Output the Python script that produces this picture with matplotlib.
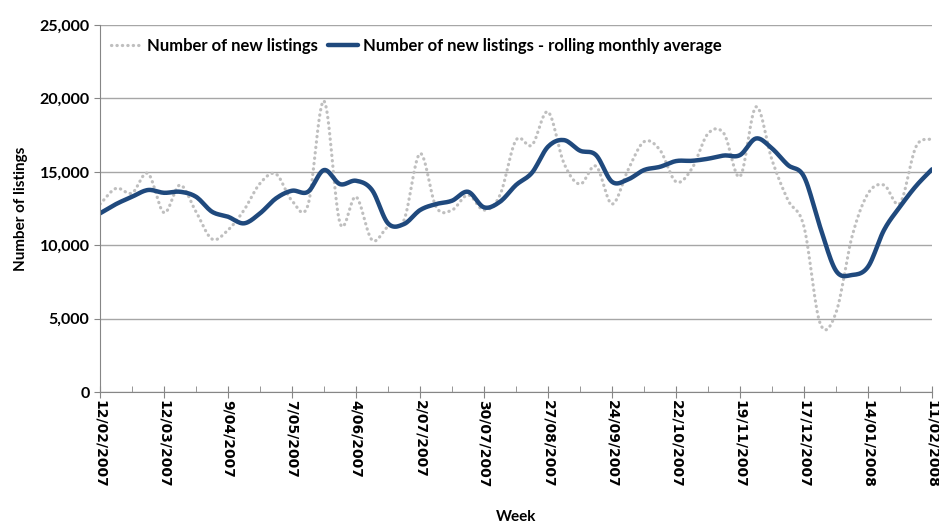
import matplotlib
matplotlib.use("Agg")
import matplotlib.pyplot as plt
import numpy as np
from matplotlib.ticker import FuncFormatter, MultipleLocator

# weekly data, 12/02/2007 .. 11/02/2008 (53 weeks)
new_listings = [12800, 13870, 13550, 14890, 12210, 14100, 12280, 10420, 11030, 12390,
                14210, 14850, 13030, 12730, 19840, 11490, 13300, 10350, 11260, 11710,
                16250, 12620, 12390, 13420, 12390, 13420, 17160, 16820, 19090, 15570,
                14160, 15390, 12800, 15120, 17050, 16480, 14320, 15230, 17600, 17600,
                14670, 19430, 15800, 13070, 11260, 4700, 5400, 10580, 13520, 14100,
                12850, 16710, 17270]
rolling_avg = [12170, 12800, 13300, 13760, 13570, 13640, 13300, 12280, 11940, 11490,
               12170, 13190, 13710, 13640, 15120, 14160, 14390, 13760, 11490, 11440,
               12390, 12800, 13030, 13640, 12580, 12960, 14100, 14940, 16710, 17160,
               16440, 16140, 14320, 14480, 15120, 15340, 15730, 15750, 15890, 16110,
               16140, 17270, 16590, 15460, 14670, 11260, 8260, 7970, 8530, 11030,
               12620, 14030, 15170]
tick_labels = ["12/02/2007", "12/03/2007", "9/04/2007", "7/05/2007", "4/06/2007",
               "2/07/2007", "30/07/2007", "27/08/2007", "24/09/2007", "22/10/2007",
               "19/11/2007", "17/12/2007", "14/01/2008", "11/02/2008"]

plt.rcParams['font.family'] = ['Lato', 'DejaVu Sans']
plt.rcParams['font.weight'] = 'bold'


def smooth(y, n=12):
    # Catmull-Rom curve through the points, like Excel's smoothed line
    y = np.asarray(y, dtype=float)
    p = np.concatenate([[2 * y[0] - y[1]], y, [2 * y[-1] - y[-2]]])
    xs, ys = [], []
    t = np.linspace(0, 1, n, endpoint=False)
    for i in range(len(y) - 1):
        p0, p1, p2, p3 = p[i], p[i + 1], p[i + 2], p[i + 3]
        seg = 0.5 * (2 * p1 + (-p0 + p2) * t + (2 * p0 - 5 * p1 + 4 * p2 - p3) * t ** 2
                     + (-p0 + 3 * p1 - 3 * p2 + p3) * t ** 3)
        xs.append(i + t)
        ys.append(seg)
    xs.append([len(y) - 1])
    ys.append([y[-1]])
    return np.concatenate(xs), np.concatenate(ys)


fig = plt.figure(figsize=(9.39, 5.27), dpi=100)
ax = fig.add_axes([100 / 939, 1 - 392 / 527, 832 / 939, 367 / 527])

xd, yd = smooth(new_listings)
xr, yr = smooth(rolling_avg)
ax.plot(xd, yd, color='#BFBFBF', lw=2.3, linestyle=(0, (0.1, 1.6)),
        dash_capstyle='round', label='Number of new listings')
ax.plot(xr, yr, color='#1F497D', lw=3.2, solid_capstyle='round',
        label='Number of new listings - rolling monthly average')

ax.set_xlim(0, len(new_listings) - 1)
ax.set_ylim(0, 25000)
ax.yaxis.set_major_locator(MultipleLocator(5000))
ax.yaxis.set_major_formatter(FuncFormatter(lambda v, p: f"{int(v):,}"))
ax.grid(axis='y', color='#A6A6A6', lw=1)
ax.set_axisbelow(True)

ax.set_xticks(np.arange(0, len(new_listings), 4))
ax.set_xticklabels(tick_labels, rotation=-90, fontsize=10, fontweight='bold',
                   family='DejaVu Sans', ha='center')
ax.set_xticks(np.arange(0, len(new_listings), 2), minor=True)
ax.tick_params(axis='x', which='major', direction='inout', length=8, color='#868686', pad=2)
ax.tick_params(axis='x', which='minor', direction='in', length=4, color='#868686')
ax.tick_params(axis='y', direction='out', length=4, color='#868686', labelsize=11.5)
for lab in ax.get_yticklabels():
    lab.set_fontweight('bold')

for s in ['top', 'right']:
    ax.spines[s].set_visible(False)
for s in ['left', 'bottom']:
    ax.spines[s].set_color('#868686')

ax.set_ylabel('Number of listings', fontsize=11, fontweight='bold', labelpad=8)
ax.set_xlabel('Week', fontsize=11, fontweight='bold', labelpad=16)

ax.legend(loc='upper left', bbox_to_anchor=(-0.005, 1.005), ncol=2, frameon=False,
          handlelength=1.8, columnspacing=0.6, handletextpad=0.35,
          prop={'weight': 'bold', 'size': 12})

fig.savefig('out.png', dpi=100)
